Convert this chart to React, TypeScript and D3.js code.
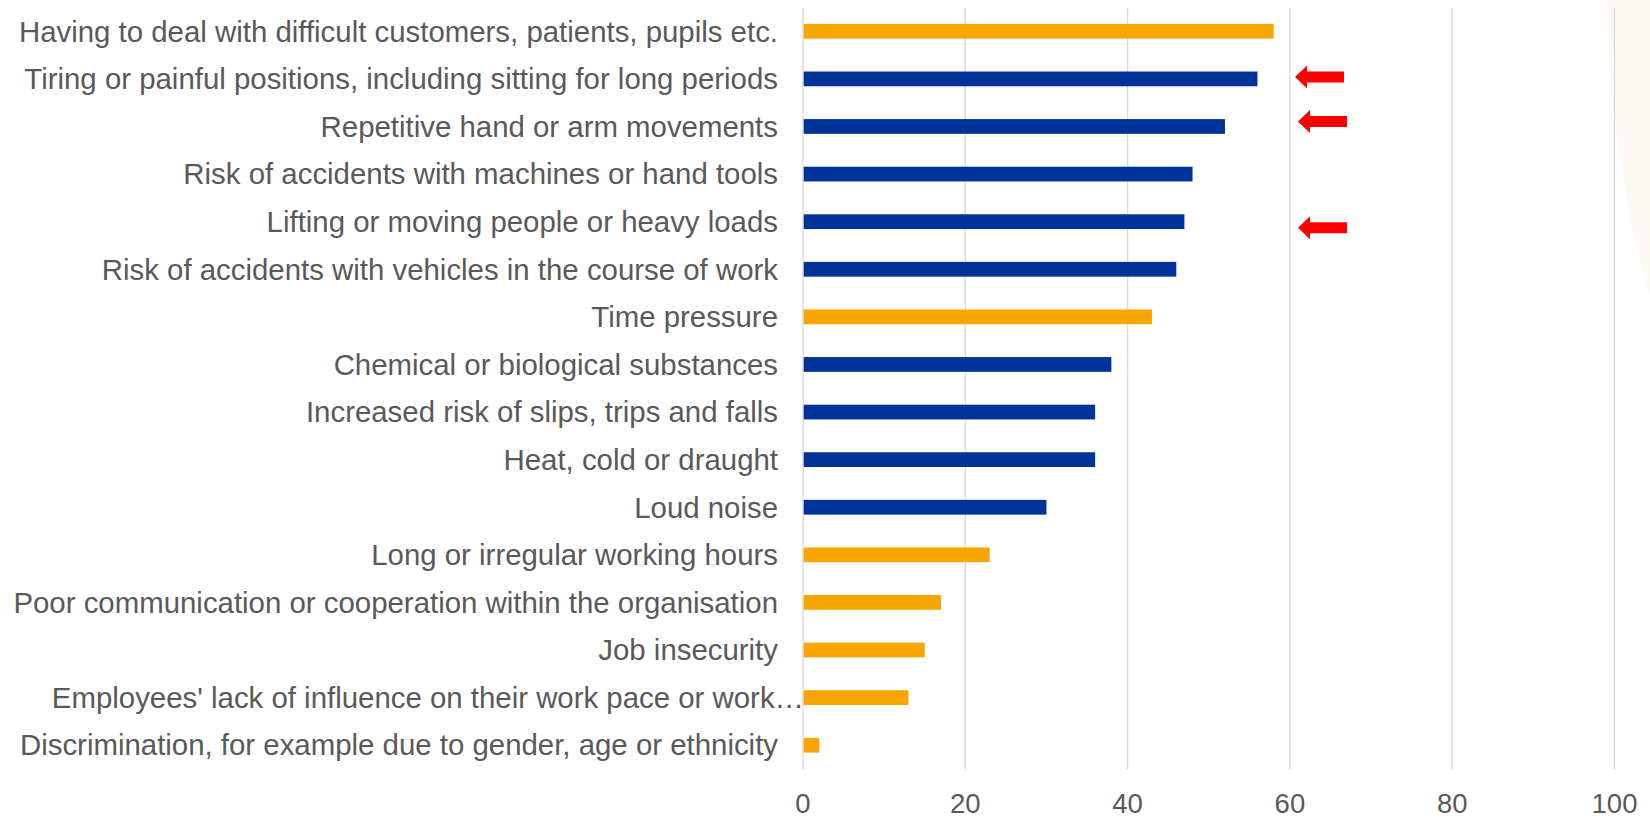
import { useEffect, useRef } from "react";
import * as d3 from "d3";

// categories top to bottom, with shares (%) and group (hazard type)
const categories = [
  "Having to deal with difficult customers, patients, pupils etc.",
  "Tiring or painful positions, including sitting for long periods",
  "Repetitive hand or arm movements",
  "Risk of accidents with machines or hand tools",
  "Lifting or moving people or heavy loads",
  "Risk of accidents with vehicles in the course of work",
  "Time pressure",
  "Chemical or biological substances",
  "Increased risk of slips, trips and falls",
  "Heat, cold or draught",
  "Loud noise",
  "Long or irregular working hours",
  "Poor communication or cooperation within the organisation",
  "Job insecurity",
  "Employees' lack of influence on their work pace or work…",
  "Discrimination, for example due to gender, age or ethnicity",
];
const values = [58, 56, 52, 48, 47, 46, 43, 38, 36, 36, 30, 23, 17, 15, 13, 2];
// "psy" = psychosocial (orange), "phy" = physical (blue)
const groups = [
  "psy", "phy", "phy", "phy", "phy", "phy", "psy", "phy",
  "phy", "phy", "phy", "psy", "psy", "psy", "psy", "psy",
];
const xTicks = [0, 20, 40, 60, 80, 100];

// red arrows pointing at these rows
const arrowRows = [1, 2, 4];
const arrowShift = [-2, -5, 6];
const arrowAt = 61;

const W = 1650;
const H = 819;

const App = () => {
  const svgRef = useRef<SVGSVGElement | null>(null);

  useEffect(() => {
    if (!svgRef.current) return;
    const svg = d3.select(svgRef.current);
    svg.selectAll("*").remove();

    const margin = { top: 7.5, right: 36, bottom: 50, left: 803 };
    const x = d3
      .scaleLinear()
      .domain([0, 100])
      .range([margin.left, margin.left + 811.5]);
    const y = d3
      .scaleBand<number>()
      .domain(d3.range(categories.length))
      .range([margin.top, H - margin.bottom])
      .paddingInner(0.69)
      .paddingOuter(0.345);

    const color = (g: string) => (g === "psy" ? "#f7a600" : "#003399");
    const textColor = "#595959";
    const font = "'Liberation Sans', Arial, sans-serif";

    // faint background swoosh top right
    svg
      .append("path")
      .attr("d", `M1606,0 Q1612,170 1650,295 L1650,0 Z`)
      .attr("fill", "#fdfaf5");

    // gridlines
    svg
      .append("g")
      .selectAll("line")
      .data(xTicks)
      .join("line")
      .attr("x1", (d) => x(d))
      .attr("x2", (d) => x(d))
      .attr("y1", y.range()[0])
      .attr("y2", y.range()[1])
      .attr("stroke", "#d9d9d9")
      .attr("stroke-width", 1.3);

    // bars
    svg
      .append("g")
      .selectAll("rect")
      .data(values)
      .join("rect")
      .attr("x", x(0) + 0.7)
      .attr("y", (_, i) => y(i)!)
      .attr("width", (d) => x(d) - x(0) - 0.7)
      .attr("height", y.bandwidth())
      .attr("fill", (_, i) => color(groups[i]));

    // category labels
    svg
      .append("g")
      .selectAll("text")
      .data(categories)
      .join("text")
      .attr("x", (d) => (d.endsWith("…") ? x(0) + 1 : x(0) - 25))
      .attr("y", (_, i) => y(i)! + y.bandwidth() / 2)
      .attr("dy", "0.35em")
      .attr("text-anchor", "end")
      .attr("font-family", font)
      .attr("font-size", 29.4)
      .attr("fill", textColor)
      .text((d) => d);

    // x tick labels
    svg
      .append("g")
      .selectAll("text")
      .data(xTicks)
      .join("text")
      .attr("x", (d) => x(d))
      .attr("y", 803.5)
      .attr("dy", "0.35em")
      .attr("text-anchor", "middle")
      .attr("font-family", font)
      .attr("font-size", 27.5)
      .attr("fill", textColor)
      .text((d) => d);

    // red arrows
    const arrow = d3.path();
    arrow.moveTo(0, 0);
    arrow.lineTo(12, -11.5);
    arrow.lineTo(12, -5.5);
    arrow.lineTo(49, -5.5);
    arrow.lineTo(49, 5.5);
    arrow.lineTo(12, 5.5);
    arrow.lineTo(12, 11.5);
    arrow.closePath();

    svg
      .append("g")
      .selectAll("path")
      .data(arrowRows)
      .join("path")
      .attr(
        "transform",
        (d, i) =>
          `translate(${x(arrowAt) + (i === 0 ? -3 : 0)},${
            y(d)! + y.bandwidth() / 2 + arrowShift[i]
          })`
      )
      .attr("d", arrow.toString())
      .attr("fill", "#ff0000");
  }, []);

  return (
    <svg
      ref={svgRef}
      width={W}
      height={H}
      style={{ position: "absolute", left: 0, top: 0, background: "#fff" }}
    ></svg>
  );
};

export default App;
